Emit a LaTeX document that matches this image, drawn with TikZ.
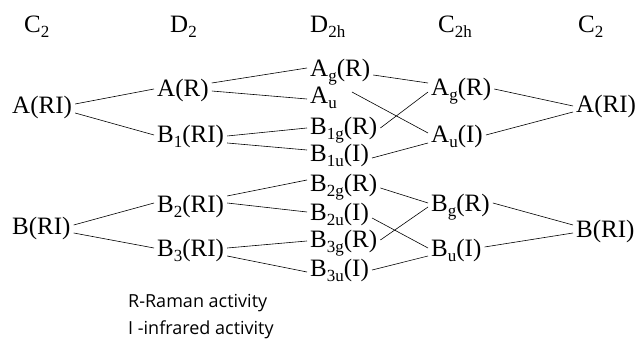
\documentclass[tikz,border=0pt]{standalone}
\usepackage{fontspec}
\setmainfont{Liberation Serif}
\newfontfamily\notefont{Open Sans}
\newcommand{\lo}[1]{\raisebox{-5pt}{\fontsize{17}{17}\selectfont #1}}
\tikzset{
  lvl/.style={anchor=base west, inner sep=3pt, text height=17pt, text depth=6pt,
    font=\fontsize{25}{29}\selectfont},
  note/.style={anchor=base west, inner sep=0pt, font=\notefont\fontsize{18}{21}\selectfont},
  corr/.style={line width=0.6pt},
}
\begin{document}
\begin{tikzpicture}[x=1pt,y=-1pt]
\useasboundingbox (0,0) rectangle (638,344);
% group names along the top
\node[lvl] (hcl) at (21,33) {C\lo{2}};
\node[lvl] (hdt) at (167,33) {D\lo{2}};
\node[lvl] (hdh) at (307,33) {D\lo{2h}};
\node[lvl] (hch) at (435,33) {C\lo{2h}};
\node[lvl] (hcr) at (575,33) {C\lo{2}};
% C2 (left)
\node[lvl] (aL) at (9,114) {A(RI)};
\node[lvl] (bL) at (9,235) {B(RI)};
% D2
\node[lvl] (aD) at (154,97) {A(R)};
\node[lvl] (boD) at (154,143) {B\lo{1}(RI)};
\node[lvl] (btD) at (154,213) {B\lo{2}(RI)};
\node[lvl] (bthD) at (154,257) {B\lo{3}(RI)};
% D2h
\node[lvl] (agD) at (307,77) {A\lo{g}(R)};
\node[lvl] (auD) at (307,104) {A\lo{u}};
\node[lvl] (bog) at (307,135) {B\lo{1g}(R)};
\node[lvl] (bou) at (307,162) {B\lo{1u}(I)};
\node[lvl] (btg) at (307,192) {B\lo{2g}(R)};
\node[lvl] (btu) at (307,221) {B\lo{2u}(I)};
\node[lvl] (bthg) at (307,248) {B\lo{3g}(R)};
\node[lvl] (bthu) at (307,277) {B\lo{3u}(I)};
% C2h
\node[lvl] (agC) at (428,96) {A\lo{g}(R)};
\node[lvl] (auC) at (428,143) {A\lo{u}(I)};
\node[lvl] (bgC) at (428,212) {B\lo{g}(R)};
\node[lvl] (buC) at (428,257) {B\lo{u}(I)};
% C2 (right)
\node[lvl] (aR) at (573,113) {A(RI)};
\node[lvl] (bR) at (573,238) {B(RI)};
% legend
\node[note] (nr) at (128,308) {R-Raman activity};
\node[note] (ni) at (128,335) {I -infrared activity};

% A branch
\draw[corr] ([yshift=4.5pt]aL.east) -- ([yshift=2.5pt]aD.west);
\draw[corr] ([yshift=-4.5pt]aL.east) -- ([yshift=2.5pt]boD.west);
\draw[corr] ([yshift=8.5pt]aD.east) -- ([yshift=3.5pt]agD.west);
\draw[corr] ([yshift=0.5pt]aD.east) -- ([yshift=-0.5pt]auD.west);
\draw[corr] ([yshift=1.5pt]boD.east) -- ([yshift=1.5pt]bog.west);
\draw[corr] ([yshift=-5.5pt]boD.east) -- ([yshift=6.5pt]bou.west);
\draw[corr] ([yshift=-3.5pt]agD.east) -- ([yshift=7.5pt]agC.west);
\draw[corr] ([xshift=12pt,yshift=6.5pt]auD.east) -- ([yshift=4.5pt]auC.west);
\draw[corr] ([yshift=1.5pt]bog.east) -- ([yshift=-1.5pt]agC.west);
\draw[corr] ([yshift=-1.5pt]bou.east) -- ([yshift=-5.5pt]auC.west);
\draw[corr] ([yshift=1.5pt]agC.east) -- ([yshift=1.5pt]aR.west);
\draw[corr] ([yshift=2.5pt]auC.east) -- ([yshift=-4.5pt]aR.west);
% B branch
\draw[corr] ([yshift=4.5pt]bL.east) -- ([yshift=4.5pt]btD.west);
\draw[corr] ([yshift=-3.5pt]bL.east) -- ([yshift=3.5pt]bthD.west);
\draw[corr] ([yshift=11.5pt]btD.east) -- ([yshift=6.5pt]btg.west);
\draw[corr] ([yshift=4.5pt]btD.east) -- ([yshift=3.5pt]btu.west);
\draw[corr] ([yshift=3.5pt]bthD.east) -- ([yshift=1.5pt]bthg.west);
\draw[corr] ([yshift=-4.5pt]bthD.east) -- ([yshift=-0.5pt]bthu.west);
\draw[corr] ([yshift=-1.5pt]btg.east) -- ([yshift=3.5pt]bgC.west);
\draw[corr] ([yshift=-2.5pt]btu.east) -- ([yshift=3.5pt]buC.west);
\draw[corr] ([yshift=2.5pt]bthg.east) -- ([yshift=-0.5pt]bgC.west);
\draw[corr] ([yshift=1.5pt]bthu.east) -- ([yshift=-4.5pt]buC.west);
\draw[corr] ([yshift=3.5pt]bgC.east) -- ([yshift=7.5pt]bR.west);
\draw[corr] ([yshift=4.5pt]buC.east) -- ([yshift=-0.5pt]bR.west);
\end{tikzpicture}
\end{document}
